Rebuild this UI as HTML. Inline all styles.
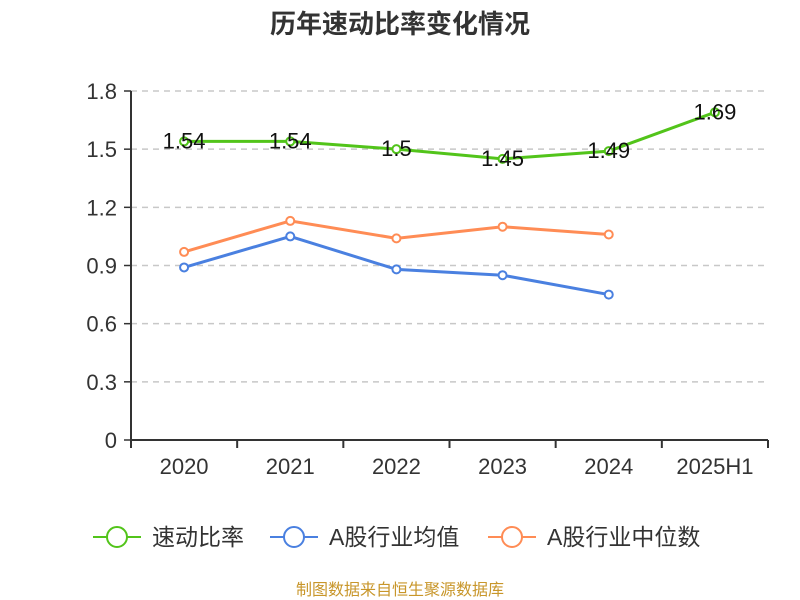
<!DOCTYPE html>
<html><head><meta charset="utf-8"><style>
body{margin:0;background:#fff;}
svg{display:block;font-family:"Liberation Sans","Noto Sans CJK SC",sans-serif;}
</style></head><body>
<svg id="chart" width="800" height="600">
<text x="400" y="33" text-anchor="middle" font-size="26" font-weight="bold" fill="#333">历年速动比率变化情况</text>
<g id="grid"></g><g id="axes"></g><g id="series"></g>
<g>
 <g><line x1="93" y1="537" x2="141" y2="537" stroke="#52c41a" stroke-width="2"/><circle cx="117" cy="537" r="10" fill="#fff" stroke="#52c41a" stroke-width="2"/><text x="152" y="545" font-size="23" fill="#333">速动比率</text></g>
 <g><line x1="270" y1="537" x2="318" y2="537" stroke="#4a80e0" stroke-width="2"/><circle cx="294" cy="537" r="10" fill="#fff" stroke="#4a80e0" stroke-width="2"/><text x="329" y="545" font-size="23" fill="#333">A股行业均值</text></g>
 <g><line x1="488" y1="537" x2="536" y2="537" stroke="#ff8c55" stroke-width="2"/><circle cx="512" cy="537" r="10" fill="#fff" stroke="#ff8c55" stroke-width="2"/><text x="547" y="545" font-size="23" fill="#333">A股行业中位数</text></g>
</g>
<text x="400" y="595" text-anchor="middle" font-size="16" fill="#c8962a">制图数据来自恒生聚源数据库</text>
</svg>
<script>
const categories=["2020","2021","2022","2023","2024","2025H1"];
const quickRatio=[1.54,1.54,1.5,1.45,1.49,1.69];
const industryMean=[0.89,1.05,0.88,0.85,0.75];
const industryMedian=[0.97,1.13,1.04,1.10,1.06];
const yTicks=[0,0.3,0.6,0.9,1.2,1.5,1.8];
const NS="http://www.w3.org/2000/svg";
const x0=131,x1=768,yB=440,yT=91,yMax=1.8;
const bw=(x1-x0)/categories.length;
function xs(i){return x0+bw*(i+0.5);}
function ys(v){return yB-(v/yMax)*(yB-yT);}
function mk(tag,attrs,parent){const e=document.createElementNS(NS,tag);for(const k in attrs)e.setAttribute(k,attrs[k]);parent.appendChild(e);return e;}
const grid=document.getElementById('grid'),axes=document.getElementById('axes'),ser=document.getElementById('series');
yTicks.forEach(t=>{const y=ys(t);
 if(t>0){const g=mk('line',{x1:x0,x2:x1,y1:y,y2:y,stroke:'#c8c8c8','stroke-dasharray':'6,5','stroke-width':1.5},grid);
 
 }
 mk('line',{x1:x0-7,x2:x0,y1:y,y2:y,stroke:'#333','stroke-width':1.5},axes);
 const tx=mk('text',{x:x0-14,y:y+8,'text-anchor':'end','font-size':22,fill:'#333'},axes);tx.textContent=t;
 
 
});
mk('line',{x1:x0,x2:x0,y1:yT,y2:yB,stroke:'#333','stroke-width':2},axes);
mk('line',{x1:x0,x2:x1,y1:yB,y2:yB,stroke:'#333','stroke-width':2},axes);
for(let i=0;i<=categories.length;i++){const x=x0+bw*i;mk('line',{x1:x,x2:x,y1:yB,y2:yB+8,stroke:'#333','stroke-width':2},axes);}
categories.forEach((c,i)=>{const t=mk('text',{x:xs(i),y:474,'text-anchor':'middle','font-size':22,fill:'#333'},axes);t.textContent=c;
 
 });
function drawSeries(vals,color,name,labels){
 const g=mk('g',{},ser);
 
 
 mk('polyline',{points:vals.map((v,i)=>xs(i)+','+ys(v)).join(' '),fill:'none',stroke:color,'stroke-width':3},g);
 vals.forEach((v,i)=>{const c=mk('circle',{cx:xs(i),cy:ys(v),r:4,fill:'#fff',stroke:color,'stroke-width':2},g);
  
  
  if(labels){const t=mk('text',{x:xs(i),y:ys(v)+7,'text-anchor':'middle','font-size':22,fill:'#111'},g);t.textContent=v;
   
   }
 });
}
drawSeries(industryMedian,'#ff8c55','industry-median-line',false);
drawSeries(industryMean,'#4a80e0','industry-mean-line',false);
drawSeries(quickRatio,'#52c41a','quick-ratio-line',true);
</script>
</body></html>
